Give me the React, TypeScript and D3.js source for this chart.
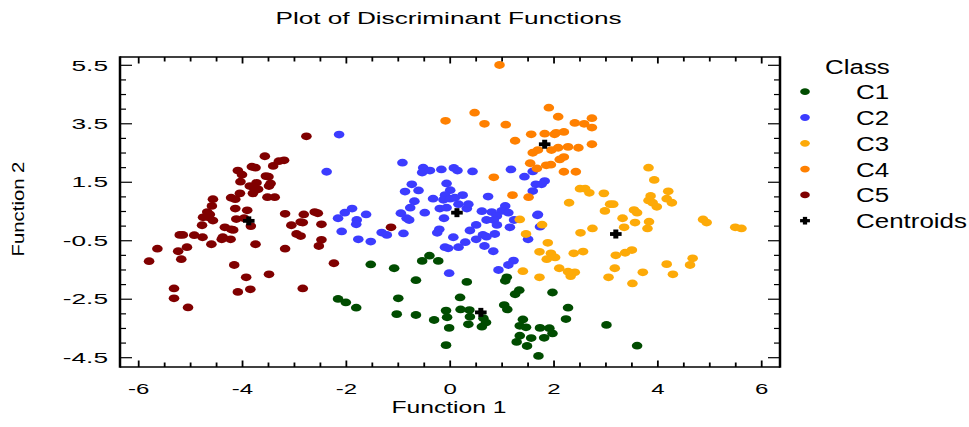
import React from 'react';
import * as d3 from 'd3';

// class scores: [function 1, function 2]
const classC1: [number, number][] = [
  [-2.16, -2.49], [-2.01, -2.61], [-1.53, -1.31], [-1.08, -1.44], [-0.54, -1.19], [-0.40, -1.01],
  [-0.23, -1.19], [-0.66, -1.85], [0.32, -1.91], [1.06, -1.87], [1.09, -1.75], [1.33, -2.19],
  [1.25, -2.33], [1.97, -2.27], [0.19, -2.44], [-1.00, -2.47], [-1.81, -2.79], [1.04, -2.70],
  [1.10, -2.85], [2.27, -2.79], [-1.03, -3.01], [-0.66, -3.04], [-0.08, -2.89], [-0.06, -3.12],
  [0.20, -2.85], [0.37, -2.87], [0.38, -3.10], [0.35, -3.36], [0.64, -3.15], [0.69, -3.30],
  [0.61, -3.44], [-0.31, -3.21], [-0.02, -3.48], [1.40, -3.19], [1.34, -3.41], [1.46, -3.46],
  [2.23, -3.18], [1.73, -3.48], [1.91, -3.49], [1.97, -3.67], [1.34, -3.75], [1.28, -3.96],
  [1.56, -3.83], [1.81, -3.82], [1.48, -4.10], [1.70, -4.44], [-0.08, -4.07], [3.01, -3.38],
  [3.60, -4.09],
];

const classC2: [number, number][] = [
  [-2.14, 3.13], [-2.38, 1.86], [-2.03, 0.46], [-2.16, 0.27], [-2.09, -0.18], [-0.92, 2.17],
  [-0.52, 2.00], [-0.54, 1.83], [-0.39, 1.90], [-0.17, 1.94], [0.07, 1.99], [0.14, 1.90],
  [0.43, 1.87], [1.17, 1.94], [1.43, 1.69], [1.59, 1.87], [-0.74, 1.43], [-0.87, 1.18],
  [-0.61, 1.22], [-0.07, 1.46], [0.00, 1.23], [-0.69, 0.85], [-0.33, 0.94], [-0.10, 1.06],
  [-0.13, 0.90], [0.00, 0.94], [0.09, 0.97], [0.24, 1.06], [0.73, 1.01], [1.65, 1.43],
  [1.82, 1.54], [1.76, 1.43], [1.59, 1.20], [-0.77, 0.63], [-1.89, 0.60], [-1.62, 0.40],
  [-0.95, 0.44], [-0.49, 0.46], [-0.20, 0.60], [-0.07, 0.63], [0.16, 0.75], [0.32, 0.60],
  [0.35, 0.75], [0.61, 0.51], [0.80, 0.48], [1.06, 0.69], [0.99, 0.52], [1.12, 0.46],
  [1.69, 0.40], [-1.80, 0.21], [-1.81, 0.06], [-0.84, 0.27], [-0.79, 0.21], [-0.12, 0.27],
  [0.90, 0.35], [0.70, 0.21], [0.84, 0.21], [0.90, 0.04], [1.23, 0.21], [1.15, -0.04],
  [0.50, 0.04], [0.38, -0.15], [-1.32, -0.22], [-1.22, -0.30], [-0.90, -0.25], [-0.21, -0.11],
  [-0.25, -0.23], [-1.77, -0.45], [-1.53, -0.53], [0.06, -0.38], [0.63, -0.30], [0.70, -0.36],
  [0.86, -0.27], [0.50, -0.45], [0.29, -0.55], [0.16, -0.72], [-0.10, -0.72], [-0.04, -0.76],
  [0.66, -0.68], [0.83, -0.86], [1.50, -0.45], [1.68, 0.37], [1.73, -0.02], [1.22, -1.18],
  [1.12, -1.33], [0.93, -1.50], [-0.02, -1.61],
];

const classC3: [number, number][] = [
  [2.29, 0.80], [3.82, 2.00], [3.93, 1.58], [2.50, 1.28], [2.60, 1.28], [2.68, 1.14],
  [2.96, 1.12], [3.08, 0.75], [3.14, 0.75], [2.98, 0.52], [3.54, 0.55], [3.60, 0.46],
  [3.86, 1.03], [3.82, 0.88], [3.90, 0.80], [3.98, 0.66], [4.20, 1.19], [4.17, 0.94],
  [4.27, 0.80], [3.32, 0.27], [3.83, 0.15], [3.56, 0.12], [3.35, -0.04], [3.80, -0.08],
  [2.74, -0.08], [2.51, -0.23], [4.87, 0.23], [4.94, 0.12], [5.49, -0.04], [5.61, -0.08],
  [2.38, -0.93], [2.56, -0.87], [3.19, -1.00], [3.37, -0.91], [3.50, -0.82], [2.32, -1.71],
  [2.40, -1.58], [3.17, -1.44], [3.05, -1.75], [3.51, -1.96], [3.71, -1.58], [4.17, -1.30],
  [4.29, -1.65], [4.67, -1.10], [4.62, -1.33], [1.34, 0.23], [1.77, 0.05], [1.46, -0.27],
  [1.88, -0.57], [1.72, -0.88], [1.94, -0.93], [2.02, -1.07], [1.86, -1.13], [2.10, -1.44],
  [2.27, -1.56], [1.40, -1.54], [1.72, -1.75],
];

const classC4: [number, number][] = [
  [0.95, 5.51], [0.47, 3.88], [-0.09, 3.60], [0.66, 3.50], [1.07, 3.47], [1.90, 4.05],
  [2.08, 3.74], [1.56, 3.14], [1.82, 3.16], [2.01, 3.14], [2.04, 3.19], [2.19, 3.22],
  [1.25, 2.92], [1.59, 2.51], [1.69, 2.60], [1.95, 2.60], [2.08, 2.68], [2.27, 2.71],
  [1.54, 2.15], [1.67, 1.97], [1.85, 2.08], [1.94, 2.10], [2.11, 2.28], [2.19, 2.36],
  [2.19, 1.86], [0.84, 1.67], [1.20, 1.06], [1.51, 0.99], [2.40, 3.53], [2.58, 3.50],
  [2.73, 3.69], [2.73, 3.37], [2.47, 2.68], [2.73, 2.80], [2.42, 1.86],
];

const classC5: [number, number][] = [
  [-2.77, 3.07], [-3.57, 2.39], [-3.30, 2.22], [-3.20, 2.25], [-3.41, 2.06], [-3.82, 2.03],
  [-3.75, 2.00], [-4.09, 1.90], [-4.01, 1.76], [-3.55, 1.71], [-3.50, 1.69], [-3.73, 1.48],
  [-4.04, 1.52], [-3.46, 1.46], [-3.49, 1.37], [-3.86, 1.37], [-3.77, 1.28], [-3.70, 1.26],
  [-3.80, 1.12], [-4.05, 1.12], [-4.22, 0.97], [-4.14, 0.92], [-3.52, 0.99], [-3.38, 0.99],
  [-4.57, 0.92], [-4.59, 0.69], [-4.14, 0.60], [-3.91, 0.54], [-4.68, 0.48], [-4.63, 0.40],
  [-3.18, 0.42], [-2.82, 0.40], [-2.61, 0.48], [-2.55, 0.44], [-4.76, 0.30], [-4.66, 0.30],
  [-4.57, 0.19], [-4.78, 0.03], [-4.12, 0.24], [-3.97, 0.27], [-3.84, 0.00], [-4.34, -0.04],
  [-4.22, -0.11], [-4.18, -0.13], [-2.88, 0.14], [-2.84, 0.12], [-3.06, 0.03], [-2.48, 0.06],
  [-5.21, -0.30], [-5.15, -0.30], [-4.93, -0.31], [-4.77, -0.38], [-4.38, -0.38], [-4.40, -0.45],
  [-4.23, -0.45], [-2.96, -0.27], [-2.88, -0.34], [-2.48, -0.47], [-2.53, -0.68], [-5.64, -0.77],
  [-5.24, -0.86], [-5.07, -0.72], [-4.60, -0.62], [-3.75, -0.62], [-3.18, -0.77], [-5.80, -1.20],
  [-5.18, -1.13], [-4.16, -1.33], [-3.49, -1.65], [-3.93, -1.75], [-5.32, -2.13], [-4.09, -2.25],
  [-3.85, -2.16], [-2.84, -2.13], [-5.32, -2.47], [-5.05, -2.78], [-2.24, -1.27], [-1.14, -0.04],
];

const centroids: [number, number][] = [
  [0.59, -2.95], [0.13, 0.46], [3.19, -0.27], [1.82, 2.80], [-3.88, 0.18],
];

const classNames = ['C1', 'C2', 'C3', 'C4', 'C5'];
const classColors = ['#004c00', '#3c3cff', '#fdaa08', '#ff8000', '#800000'];
const classData = [classC1, classC2, classC3, classC4, classC5];

const xTickLabels = [-6, -4, -2, 0, 2, 4, 6];
const yTickLabels = [5.5, 3.5, 1.5, -0.5, -2.5, -4.5];

const W = 969;
const H = 427;
const frame = { left: 120, right: 780, top: 57, bottom: 367 };
const font = 'Liberation Sans, Arial, sans-serif';

// the reference is stretched sideways, so text is widened with scale()
function Wide({ x, y, sx, size, anchor, children, rotate }: any) {
  const tf = rotate
    ? `translate(${x},${y}) rotate(-90) scale(${sx},1)`
    : `translate(${x},${y}) scale(${sx},1)`;
  return (
    <text transform={tf} fontSize={size} fontFamily={font} textAnchor={anchor} fill="#000">
      {children}
    </text>
  );
}

function Plus({ x, y, k = 1 }: { x: number; y: number; k?: number }) {
  return (
    <g transform={`translate(${x},${y}) scale(${k})`} fill="#000">
      <rect x={-5.8} y={-1.9} width={11.6} height={3.8} />
      <rect x={-2.5} y={-4.5} width={5} height={9} />
    </g>
  );
}

export default function App() {
  const x = d3.scaleLinear().domain([-6, 6]).range([138.7, 761.7]);
  const y = d3.scaleLinear().domain([-4.5, 5.5]).range([357.7, 65.3]);

  const xMinor = d3.range(-6, 6.01, 0.5);
  const yMinor = d3.range(-4.5, 5.51, 0.5);
  const isMajorX = (v: number) => Math.abs(v / 2 - Math.round(v / 2)) < 1e-6;
  const isMajorY = (v: number) => Math.abs((v - 1.5) / 2 - Math.round((v - 1.5) / 2)) < 1e-6;

  return (
    <svg width={W} height={H} style={{ position: 'absolute', left: 0, top: 0, background: '#fff' }}>
      <rect width={W} height={H} fill="#fff" />
      <Wide x={448.5} y={24} sx={1.54} size={17} anchor="middle">Plot of Discriminant Functions</Wide>

      {/* points */}
      {classData.map((pts, ci) => (
        <g key={ci} fill={classColors[ci]}>
          {pts.map((d, i) => (
            <ellipse key={i} cx={x(d[0])} cy={y(d[1])} rx={5.3} ry={3.9} />
          ))}
        </g>
      ))}
      {centroids.map((d, i) => (
        <Plus key={i} x={x(d[0])} y={y(d[1])} />
      ))}

      {/* frame */}
      <g stroke="#000" fill="none">
        <line x1={frame.left} x2={frame.right} y1={frame.top} y2={frame.top} strokeWidth={1.5} />
        <line x1={frame.left} x2={frame.right} y1={frame.bottom} y2={frame.bottom} strokeWidth={1.5} />
        <line x1={frame.left} x2={frame.left} y1={frame.top - 0.75} y2={frame.bottom + 0.75} strokeWidth={2.5} />
        <line x1={frame.right} x2={frame.right} y1={frame.top - 0.75} y2={frame.bottom + 0.75} strokeWidth={2.5} />
        {xMinor.map((v, i) => {
          const len = isMajorX(v) ? 6.5 : 4.5;
          return (
            <g key={i} strokeWidth={1.8}>
              <line x1={x(v)} x2={x(v)} y1={frame.bottom} y2={frame.bottom - len} />
              <line x1={x(v)} x2={x(v)} y1={frame.top} y2={frame.top + len} />
            </g>
          );
        })}
        {yMinor.map((v, i) => {
          const len = isMajorY(v) ? 12 : 6;
          return (
            <g key={i} strokeWidth={1.2}>
              <line x1={frame.left} x2={frame.left + len} y1={y(v)} y2={y(v)} />
              <line x1={frame.right} x2={frame.right - len} y1={y(v)} y2={y(v)} />
            </g>
          );
        })}
      </g>

      {/* tick labels */}
      {xTickLabels.map((v) => (
        <Wide key={v} x={x(v)} y={394} sx={1.6} size={15} anchor="middle">{String(v)}</Wide>
      ))}
      {yTickLabels.map((v) => (
        <Wide key={v} x={108} y={y(v) + 5.2} sx={1.75} size={15} anchor="end">{v.toFixed(1)}</Wide>
      ))}
      <Wide x={449} y={413} sx={1.54} size={16} anchor="middle">Function 1</Wide>
      <Wide x={23.5} y={209} sx={1.27} size={16} anchor="middle" rotate>Function 2</Wide>

      {/* legend */}
      <Wide x={825} y={74} sx={1.33} size={19.5} anchor="start">Class</Wide>
      {classNames.map((name, i) => {
        const cy = 91.7 + i * 25.8;
        return (
          <g key={name}>
            <ellipse cx={805} cy={cy} rx={4.8} ry={3.4} fill={classColors[i]} />
            <Wide x={856} y={cy + 7.5} sx={1.33} size={19.5} anchor="start">{name}</Wide>
          </g>
        );
      })}
      <Plus x={805} y={91.7 + 5 * 25.8} k={0.85} />
      <Wide x={856} y={91.7 + 5 * 25.8 + 7.5} sx={1.33} size={19.5} anchor="start">Centroids</Wide>
    </svg>
  );
}
